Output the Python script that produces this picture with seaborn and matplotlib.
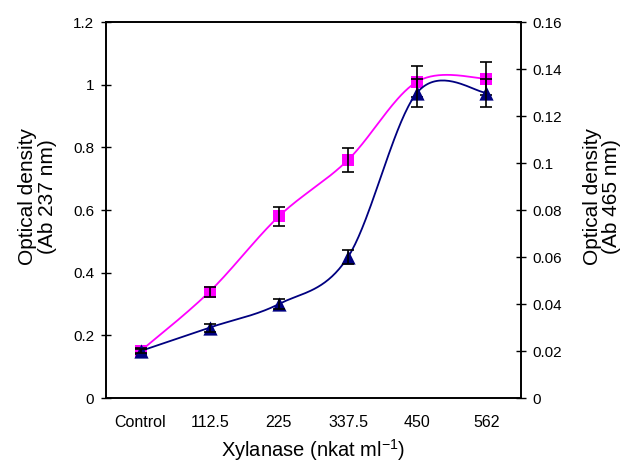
import numpy as np
import matplotlib
matplotlib.use("Agg")
import matplotlib.pyplot as plt
import seaborn as sns
from matplotlib.ticker import FuncFormatter, FixedLocator

categories = ["Control", "112.5", "225", "337.5", "450", "562"]
ab237 = [0.15, 0.34, 0.58, 0.76, 1.01, 1.02]
ab237_err = [0.01, 0.016, 0.03, 0.038, 0.05, 0.053]
ab465 = [0.020, 0.030, 0.040, 0.060, 0.130, 0.130]
ab465_err = [0.001, 0.0017, 0.002, 0.003, 0.006, 0.006]

sns.set_style("white")
plt.rcParams["font.family"] = ["Liberation Sans", "DejaVu Sans"]
plt.rcParams["mathtext.default"] = "regular"
plt.rcParams["text.color"] = "black"
plt.rcParams["axes.labelcolor"] = "black"
plt.rcParams["xtick.color"] = "black"
plt.rcParams["ytick.color"] = "black"


def smooth(xv, yv, n=40):
    # excel-style smoothed line (cardinal bezier, tension 1/6)
    p = np.column_stack([xv, yv]).astype(float)
    p = np.vstack([p[0], p, p[-1]])
    out = []
    t = np.linspace(0, 1, n)[:, None]
    for i in range(1, len(p) - 2):
        a, d = p[i], p[i + 1]
        b = a + (p[i + 1] - p[i - 1]) / 6
        c = d - (p[i + 2] - p[i]) / 6
        seg = (1 - t) ** 3 * a + 3 * (1 - t) ** 2 * t * b + 3 * (1 - t) * t ** 2 * c + t ** 3 * d
        out.append(seg)
    s = np.vstack(out)
    return s[:, 0], s[:, 1]


pos = np.arange(len(categories))

fig = plt.figure(figsize=(6.29, 4.62), dpi=100)
ax = fig.add_axes([0.1685, 0.1385, 0.6595, 0.8135])
ax2 = ax.twinx()

sx, sy = smooth(pos, ab237)
sns.lineplot(x=sx, y=sy, ax=ax, color="#FF00FF", linewidth=1.3, sort=False, estimator=None)
sns.scatterplot(x=pos, y=ab237, ax=ax, color="#FF00FF", marker="s", s=85, linewidth=0, zorder=3)
ax.errorbar(pos, ab237, yerr=ab237_err, fmt="none", ecolor="black", elinewidth=1.2, capsize=4, capthick=1.2, zorder=4)

sx2, sy2 = smooth(pos, ab465)
sns.lineplot(x=sx2, y=sy2, ax=ax2, color="#000080", linewidth=1.3, sort=False, estimator=None)
sns.scatterplot(x=pos, y=ab465, ax=ax2, color="#000080", marker="^", s=105, linewidth=0, zorder=3)
ax2.errorbar(pos, ab465, yerr=ab465_err, fmt="none", ecolor="black", elinewidth=1.2, capsize=4, capthick=1.2, zorder=4)

ax.set_xlim(-0.5, len(categories) - 0.5)
ax.set_ylim(0, 1.2)
ax2.set_ylim(0, 0.16)
ax.set_yticks(np.arange(0, 1.21, 0.2))
ax2.set_yticks(np.arange(0, 0.161, 0.02))
fmt = FuncFormatter(lambda v, _: "%g" % round(v, 3))
ax.yaxis.set_major_formatter(fmt)
ax2.yaxis.set_major_formatter(fmt)

ax.xaxis.set_major_locator(FixedLocator(pos[:-1] + 0.5))
ax.xaxis.set_major_formatter(FuncFormatter(lambda v, _: ""))
ax.xaxis.set_minor_locator(FixedLocator(pos))
ax.set_xticklabels(categories, minor=True)
ax.tick_params(axis="x", which="minor", length=0, labelsize=11.5, pad=12)
ax.tick_params(axis="x", which="major", direction="inout", length=7, width=1)
ax.tick_params(axis="y", direction="inout", length=7, width=1, labelsize=11, pad=5)
ax2.tick_params(axis="y", direction="inout", length=7, width=1, labelsize=11, pad=5)

for a in (ax, ax2):
    for sp in a.spines.values():
        sp.set_color("black")
        sp.set_linewidth(1.2)

ax.set_xlabel("Xylanase (nkat ml$^{-1}$)", fontsize=14.5)
ax.xaxis.set_label_coords(0.5, -0.105)
ax.set_ylabel("Optical density\n(Ab 237 nm)", fontsize=15, linespacing=1.05)
ax.yaxis.set_label_coords(-0.118, 0.535)
ax2.set_ylabel("Optical density\n(Ab 465 nm)", fontsize=15, linespacing=1.05)
ax2.yaxis.set_label_coords(1.149, 0.535)

plt.savefig("out.png", dpi=100)
